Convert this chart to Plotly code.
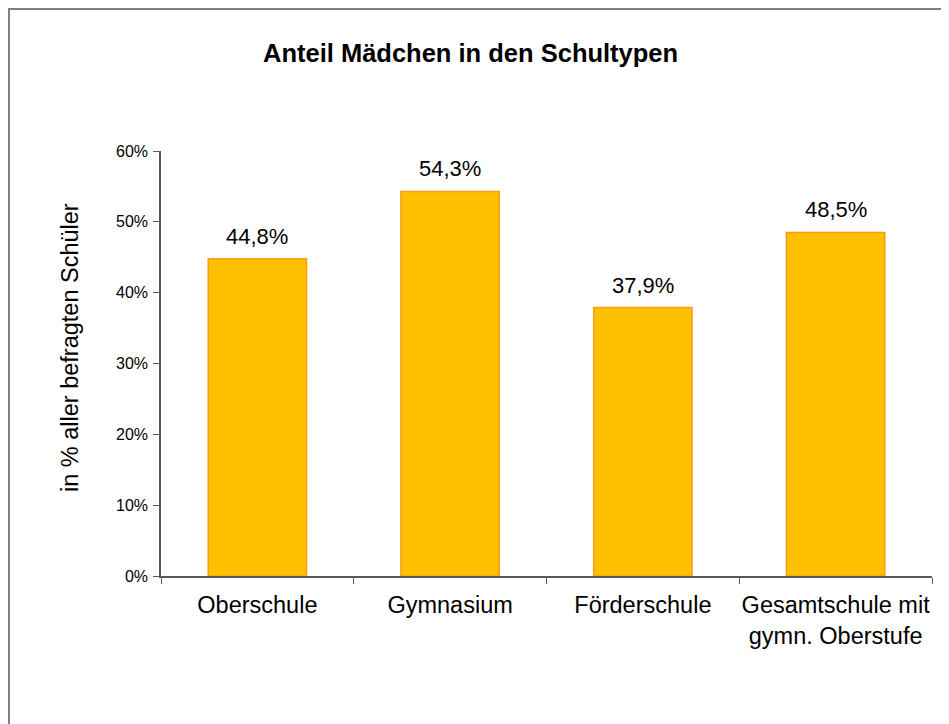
import plotly.graph_objects as go

categories = ["Oberschule", "Gymnasium", "Förderschule", "Gesamtschule mit<br>gymn. Oberstufe"]
values = [44.8, 54.3, 37.9, 48.5]
y_ticks = [0, 10, 20, 30, 40, 50, 60]
y_tick_labels = ["0%", "10%", "20%", "30%", "40%", "50%", "60%"]
title_text = "<b>Anteil Mädchen in den Schultypen</b>"
y_title = "in % aller befragten Schüler"

labels = [f"{v:.1f}".replace(".", ",") + "%" for v in values]

OFF = 8  # page body margin
W, H = 949 - OFF, 724 - OFF
L, R, T, B = 161 - OFF, 932 - OFF, 151 - OFF, 576 - OFF

fig = go.Figure()
fig.add_trace(go.Bar(
    x=categories, y=values,
    marker=dict(color="#FFC000", line=dict(color="#FF9A10", width=1.5)),
    hoverinfo="skip",
))

annotations = []
for c, v, t in zip(categories, values, labels):
    annotations.append(dict(x=c, y=v, xref="x", yref="y", text=t, showarrow=False,
                            yanchor="bottom", yshift=8,
                            font=dict(size=22, color="black")))
annotations.append(dict(x=(470 - OFF - L) / (R - L), y=(B - (53 - OFF)) / (B - T),
                        xref="paper", yref="paper",
                        text=title_text, showarrow=False, xanchor="center", yanchor="middle",
                        font=dict(size=25.5, color="black")))
annotations.append(dict(x=(70 - OFF - L) / (R - L), y=(B - (348 - OFF)) / (B - T),
                        xref="paper", yref="paper",
                        text=y_title, textangle=-90, showarrow=False,
                        xanchor="center", yanchor="middle",
                        font=dict(size=23.5, color="black")))

fig.update_layout(
    template="none",
    width=W, height=H,
    margin=dict(l=L, r=W - R, t=T, b=H - B, pad=0, autoexpand=False),
    paper_bgcolor="white", plot_bgcolor="white",
    font=dict(family="Liberation Sans, Arial, sans-serif", color="black"),
    bargap=0.49,
    showlegend=False,
    annotations=annotations,
    shapes=[dict(type="rect", xref="paper", yref="paper",
                 x0=(1 - L) / (R - L), x1=1.3,
                 y0=-0.6, y1=(B - (9 - OFF)) / (B - T),
                 line=dict(color="#7f7f7f", width=2), layer="below")],
)
fig.update_xaxes(
    automargin=False, tickangle=0,
    showline=True, linecolor="#595959", linewidth=1.5,
    ticks="outside", tickson="boundaries", ticklen=6, tickcolor="#595959",
    tickfont=dict(size=23.5, color="black"), showgrid=False,
    ticklabelstandoff=7,
)
fig.update_yaxes(
    automargin=False,
    range=[0, 60], tickvals=y_ticks, ticktext=y_tick_labels,
    showline=True, linecolor="#595959", linewidth=1.5,
    ticks="outside", ticklen=6, tickcolor="#595959",
    tickfont=dict(size=16, color="black"), showgrid=False, zeroline=False,
    ticklabelstandoff=2,
)

fig.write_html("out.html")
